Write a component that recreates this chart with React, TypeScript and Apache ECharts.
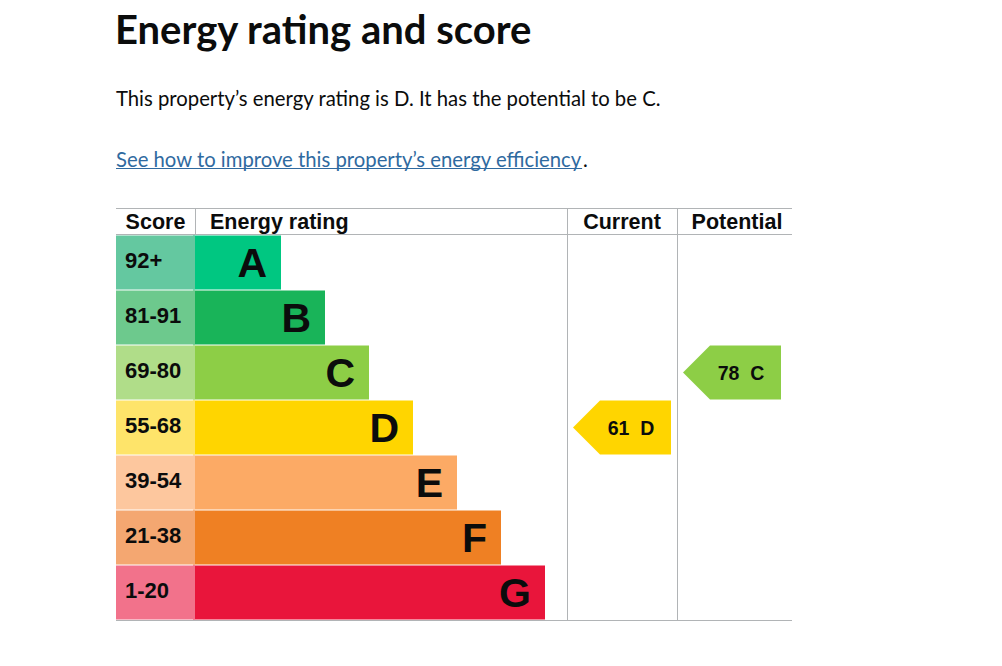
import React, { useEffect, useRef } from "react";
import * as echarts from "echarts";

const bands = ["A", "B", "C", "D", "E", "F", "G"];
const scoreRanges = ["92+", "81-91", "69-80", "55-68", "39-54", "21-38", "1-20"];
const bandBarLength = [2, 3, 4, 5, 6, 7, 8];
const bandColors = ["#00c781", "#19b459", "#8dce46", "#ffd500", "#fcaa65", "#ef8023", "#e9153b"];
const scoreColors = ["#64c8a0", "#6dc98d", "#b0dd89", "#fee46a", "#fdc79e", "#f4a771", "#f2728b"];
const headers = ["Score", "Energy rating", "Current", "Potential"];
const currentScore = 61;
const currentBand = "D";
const potentialScore = 78;
const potentialBand = "C";
const titleText = "Energy rating and score";
const summaryText = `This property\u2019s energy rating is ${currentBand}. It has the potential to be ${potentialBand}.`;
const linkText = "See how to improve this property\u2019s energy efficiency";

const TEXT = "#0b0c0c";
const LINE = "#b1b4b6";
const LINK = "#2f6aa0";
const GDS = "Lato, 'Noto Sans', Arial, sans-serif";
const ARIAL = "'Liberation Sans', Arial, sans-serif";

const ROW_TOP = 235;
const ROW_H = 385;
const ARROW = "path://M0,27L27,0L98,0L98,54L27,54Z";

export default function App() {
  const ref = useRef<HTMLDivElement>(null);
  useEffect(() => {
    document.body.style.margin = "0";
    const chart = echarts.init(ref.current!, null, { renderer: "svg" });
    const linkFont = `20.3px ${GDS}`;
    const lw = (() => {
      const c = document.createElement("canvas").getContext("2d");
      if (!c) return 466;
      c.font = linkFont;
      return c.measureText(linkText).width;
    })();
    const yCat = (gi: number) => ({
      type: "category" as const,
      gridIndex: gi,
      data: bands,
      inverse: true,
      show: false,
    });
    const hline = (y: number) => ({
      type: "line",
      shape: { x1: 116, y1: y, x2: 792, y2: y },
      style: { stroke: LINE, lineWidth: 1 },
      silent: true,
    });
    const vline = (x: number, y1: number, y2: number) => ({
      type: "line",
      shape: { x1: x, y1, x2: x, y2 },
      style: { stroke: LINE, lineWidth: 1 },
      silent: true,
    });
    const arrowSeries = (gi: number, score: number, band: string) => ({
      type: "scatter",
      xAxisIndex: gi,
      yAxisIndex: gi,
      symbol: ARROW,
      symbolSize: [98, 54],
      data: [{ value: [0.5, band], itemStyle: { color: bandColors[bands.indexOf(band)], opacity: 1 } }],
      itemStyle: { opacity: 1 },
      label: {
        show: true,
        position: "inside",
        offset: [9, 0],
        formatter: `${score}  ${band}`,
        fontFamily: ARIAL,
        fontWeight: "bold",
        fontSize: 19.5,
        color: TEXT,
      },
      z: 4,
    });
    chart.setOption({
      animation: false,
      grid: [
        { left: 116, top: ROW_TOP, width: 79, height: ROW_H },
        { left: 193, top: ROW_TOP, width: 374, height: ROW_H },
        { left: 567, top: ROW_TOP, width: 110, height: ROW_H },
        { left: 677, top: ROW_TOP, width: 110, height: ROW_H },
      ],
      xAxis: [
        { type: "value", gridIndex: 0, min: 0, max: 1, show: false },
        { type: "value", gridIndex: 1, min: 0, max: 374 / 44, show: false },
        { type: "value", gridIndex: 2, min: 0, max: 1, show: false },
        { type: "value", gridIndex: 3, min: 0, max: 1, show: false },
      ],
      yAxis: [yCat(0), yCat(1), yCat(2), yCat(3)],
      series: [
        {
          type: "bar",
          xAxisIndex: 1,
          yAxisIndex: 1,
          barWidth: 54,
          data: bandBarLength.map((v, i) => ({
            value: v,
            itemStyle: { color: bandColors[i] },
          })),
          label: {
            show: true,
            position: "insideRight",
            distance: 14,
            formatter: (p: any) => bands[p.dataIndex],
            fontFamily: ARIAL,
            fontWeight: "bold",
            fontSize: 41,
            color: TEXT,
          },
          z: 2,
        },
        {
          type: "bar",
          xAxisIndex: 0,
          yAxisIndex: 0,
          barWidth: 54,
          data: scoreRanges.map((s, i) => ({
            value: 1,
            itemStyle: { color: scoreColors[i] },
          })),
          label: {
            show: true,
            position: "insideLeft",
            distance: 9,
            formatter: (p: any) => scoreRanges[p.dataIndex],
            fontFamily: ARIAL,
            fontWeight: "bold",
            fontSize: 22,
            color: TEXT,
            offset: [0, -2],
          },
          z: 3,
        },
        arrowSeries(2, currentScore, currentBand),
        arrowSeries(3, potentialScore, potentialBand),
      ],
      graphic: [
        {
          type: "text",
          style: {
            x: 115,
            y: 29,
            text: titleText,
            font: `bold 40px ${GDS}`,
            fill: TEXT,
            verticalAlign: "middle",
          },
        },
        {
          type: "text",
          style: {
            x: 116,
            y: 98,
            text: summaryText,
            font: `20.3px ${GDS}`,
            fill: TEXT,
            verticalAlign: "middle",
          },
        },
        {
          type: "text",
          style: {
            x: 116,
            y: 159,
            text: linkText,
            font: linkFont,
            fill: LINK,
            verticalAlign: "middle",
          },
        },
        {
          type: "line",
          shape: { x1: 116, y1: 168.5, x2: 116 + lw, y2: 168.5 },
          style: { stroke: LINK, lineWidth: 1 },
        },
        {
          type: "text",
          style: { x: 116 + lw + 1, y: 159, text: ".", font: linkFont, fill: TEXT, verticalAlign: "middle" },
        },
        hline(208.5),
        hline(234.5),
        hline(620.5),
        vline(195.5, 208, 234),
        vline(567.5, 208, 620),
        vline(677.5, 208, 620),
        {
          type: "text",
          style: { x: 155.5, y: 222, text: headers[0], font: `bold 21.5px ${ARIAL}`, fill: TEXT, align: "center", verticalAlign: "middle" },
        },
        {
          type: "text",
          style: { x: 210, y: 222, text: headers[1], font: `bold 21.5px ${ARIAL}`, fill: TEXT, verticalAlign: "middle" },
        },
        {
          type: "text",
          style: { x: 622, y: 222, text: headers[2], font: `bold 21.5px ${ARIAL}`, fill: TEXT, align: "center", verticalAlign: "middle" },
        },
        {
          type: "text",
          style: { x: 737, y: 222, text: headers[3], font: `bold 21.5px ${ARIAL}`, fill: TEXT, align: "center", verticalAlign: "middle" },
        },
      ],
    });
    return () => chart.dispose();
  }, []);
  return <div ref={ref} style={{ width: 1002, height: 666, background: "#fff" }} />;
}
